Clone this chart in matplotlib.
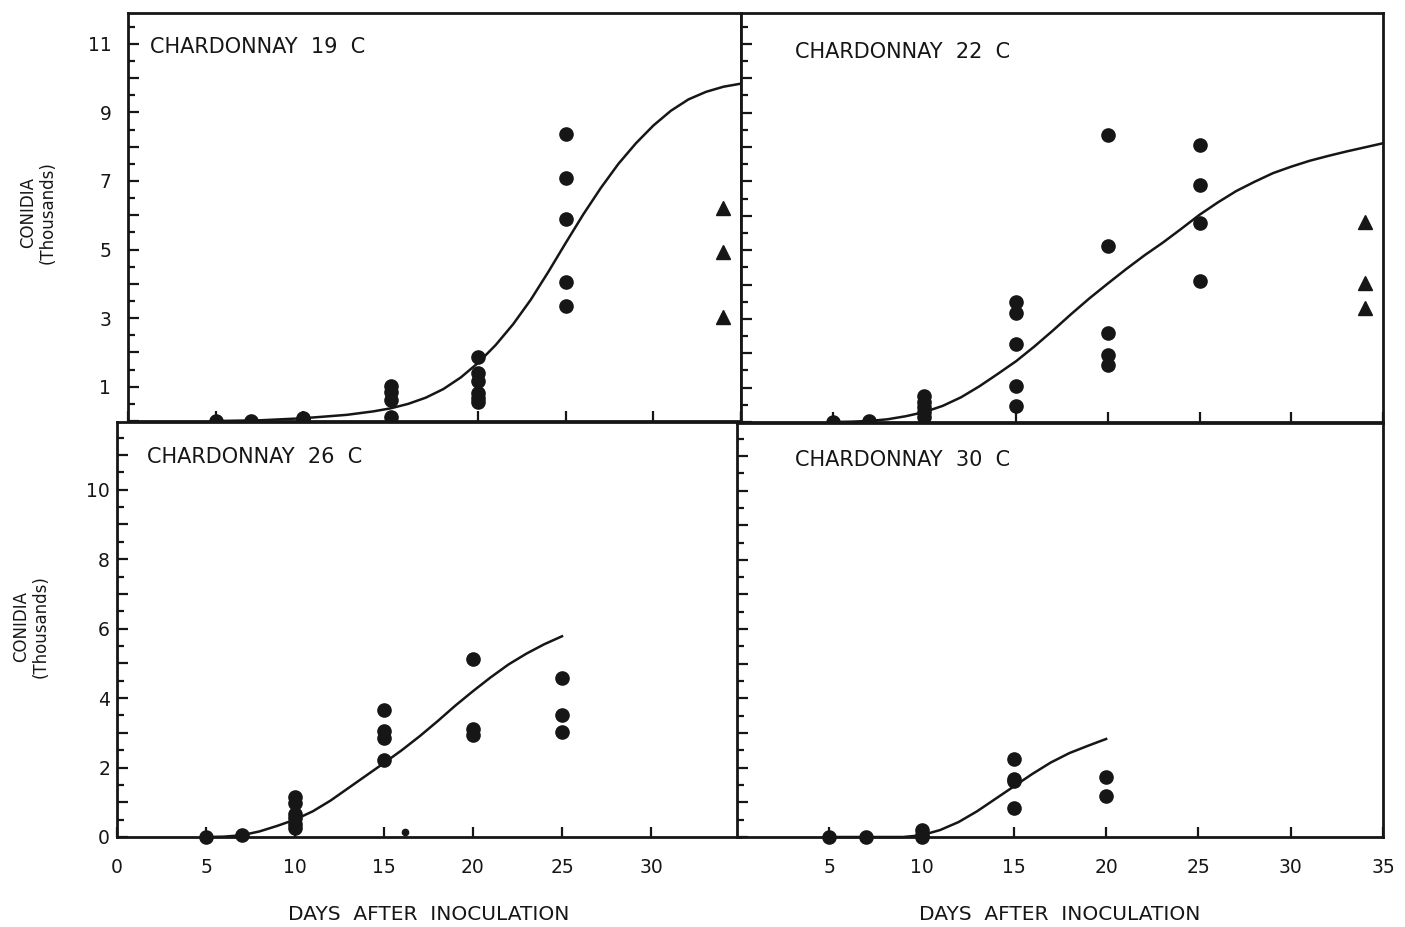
import matplotlib
matplotlib.use("Agg")
import matplotlib.pyplot as plt
from matplotlib.ticker import MultipleLocator, FuncFormatter

plt.rcParams['font.family'] = ['DejaVu Sans']
plt.rcParams['font.size'] = 13

# ---- data (days, conidia in thousands) ----
# 19 C
t19_days = [5, 7, 10, 10, 10, 15, 15, 15, 15, 20, 20, 20, 20, 20, 20, 25, 25, 25, 25, 25]
t19_vals = [0, 0, 0.03, 0.07, 0.1, 1.03, 0.85, 0.62, 0.12, 1.87, 1.41, 1.17, 0.83, 0.68, 0.56, 8.38, 7.1, 5.88, 4.05, 3.35]
t19_tri_days = [34, 34, 34]
t19_tri_vals = [6.22, 4.94, 3.04]
t19_fit_days = [5, 7.5, 10, 12.5, 14, 15, 16, 17, 18, 19, 20, 21, 22, 23, 24, 25, 26, 27, 28, 29, 30, 31, 32, 33, 34, 35]
t19_fit_vals = [0, 0.02, 0.08, 0.18, 0.28, 0.37, 0.5, 0.68, 0.93, 1.27, 1.7, 2.22, 2.83, 3.54, 4.35, 5.2,
                6.03, 6.8, 7.5, 8.1, 8.62, 9.05, 9.38, 9.6, 9.75, 9.84]

# 22 C
t22_days = [5, 7, 10, 10, 10, 10, 10, 15, 15, 15, 15, 15, 20, 20, 20, 20, 20, 25, 25, 25, 25]
t22_vals = [0, 0.03, 0.76, 0.58, 0.44, 0.29, 0.15, 3.5, 3.16, 2.28, 1.04, 0.46, 8.36, 5.12, 2.58, 1.94, 1.65, 8.07, 6.9, 5.8, 4.1]
t22_tri_days = [34, 34, 34]
t22_tri_vals = [5.83, 4.03, 3.32]
t22_fit_days = [5, 6, 7, 8, 9, 10, 11, 12, 13, 14, 15, 16, 17, 18, 19, 20, 21, 22, 23, 24, 25, 26, 27, 28, 29, 30,
                31, 32, 33, 34, 35]
t22_fit_vals = [0, 0.01, 0.03, 0.08, 0.17, 0.29, 0.47, 0.72, 1.04, 1.4, 1.77, 2.2, 2.66, 3.14, 3.6, 4.03, 4.45,
                4.85, 5.22, 5.62, 6.03, 6.39, 6.72, 6.99, 7.24, 7.43, 7.6, 7.74, 7.87, 7.99, 8.11]

# 26 C
t26_days = [5, 7, 10, 10, 10, 10, 10, 10, 15, 15, 15, 15, 20, 20, 20, 25, 25, 25]
t26_vals = [0, 0.07, 1.15, 0.98, 0.67, 0.55, 0.38, 0.26, 3.65, 3.05, 2.85, 2.21, 5.13, 3.12, 2.93, 4.58, 3.5, 3.02]
t26_small_days = [16.2]
t26_small_vals = [0.14]
t26_fit_days = [5, 6, 7, 8, 9, 10, 11, 12, 13, 14, 15, 16, 17, 18, 19, 20, 21, 22, 23, 24, 25]
t26_fit_vals = [0, 0.01, 0.05, 0.16, 0.32, 0.5, 0.74, 1.05, 1.41, 1.77, 2.13, 2.5, 2.9, 3.33, 3.78, 4.2, 4.6,
                4.97, 5.28, 5.55, 5.78]

# 30 C
t30_days = [5, 7, 10, 10, 10, 15, 15, 15, 15, 20, 20]
t30_vals = [0, 0, 0, 0.07, 0.19, 2.25, 1.68, 1.63, 0.83, 1.73, 1.17]
t30_fit_days = [5, 9, 10, 11, 12, 13, 14, 15, 16, 17, 18, 19, 20]
t30_fit_vals = [0, 0, 0.05, 0.2, 0.43, 0.74, 1.1, 1.46, 1.82, 2.15, 2.42, 2.63, 2.83]

W, H = 1405, 927
fig = plt.figure(figsize=(W / 100, H / 100), dpi=100)


def box(x0, y0, x1, y1):
    # pixel box (top-left origin) -> figure fraction
    return [x0 / W, 1 - y1 / H, (x1 - x0) / W, (y1 - y0) / H]


ax19 = fig.add_axes(box(128, 13, 741, 421))
ax22 = fig.add_axes(box(741, 13, 1383, 422))
ax26 = fig.add_axes(box(117, 422, 740, 837))
ax30 = fig.add_axes(box(737, 423, 1383, 837))

odd_only = FuncFormatter(lambda v, p: '%d' % v if int(round(v)) % 2 == 1 else '')
even_only = FuncFormatter(lambda v, p: '%d' % v if int(round(v)) % 2 == 0 and v < 11 else '')

ink = '#161616'
panels = [
    (ax19, 'CHARDONNAY  19  C', t19_days, t19_vals, t19_fit_days, t19_fit_vals, (0.036, 0.917), 11.9),
    (ax22, 'CHARDONNAY  22  C', t22_days, t22_vals, t22_fit_days, t22_fit_vals, (0.084, 0.905), 11.9),
    (ax26, 'CHARDONNAY  26  C', t26_days, t26_vals, t26_fit_days, t26_fit_vals, (0.048, 0.916), 11.95),
    (ax30, 'CHARDONNAY  30  C', t30_days, t30_vals, t30_fit_days, t30_fit_vals, (0.09, 0.911), 11.95),
]

for ax, title, dx, dy, fx, fy, tpos, ytop in panels:
    ax.plot(fx, fy, color=ink, lw=1.8, clip_on=False, zorder=3)
    ax.plot(dx, dy, 'o', color=ink, ms=9.5, clip_on=False, zorder=4)
    ax.set_xlim(0, 35)
    ax.set_ylim(0, ytop)
    ax.text(tpos[0], tpos[1], title, transform=ax.transAxes, fontsize=15,
            ha='left', va='center', color=ink)
    for s in ax.spines.values():
        s.set_linewidth(2)
        s.set_color(ink)
    ax.xaxis.set_major_locator(MultipleLocator(5))
    ax.yaxis.set_major_locator(MultipleLocator(1))
    ax.yaxis.set_minor_locator(MultipleLocator(0.5))
    ax.tick_params(axis='both', which='both', direction='in', top=False, right=False, width=1.6,
                   color=ink, labelcolor=ink)
    ax.tick_params(axis='y', which='major', length=8)
    ax.tick_params(axis='y', which='minor', length=5)
    ax.tick_params(axis='x', which='major', length=7)

ax19.plot(t19_tri_days, t19_tri_vals, '^', color=ink, ms=9.5, clip_on=False, zorder=4)
ax22.plot(t22_tri_days, t22_tri_vals, '^', color=ink, ms=9.5, clip_on=False, zorder=4)
ax26.plot(t26_small_days, t26_small_vals, 'o', color=ink, ms=4.5, clip_on=False, zorder=4)

# tick labels
ax19.yaxis.set_major_formatter(odd_only)
ax19.tick_params(axis='y', which='major', pad=12, labelsize=13.5)
ax19.tick_params(axis='x', labelbottom=False)
ax22.tick_params(axis='both', labelleft=False, labelbottom=False)
ax26.yaxis.set_major_formatter(even_only)
ax26.tick_params(axis='y', which='major', pad=5, labelsize=13.5)
ax26.set_xticks([0, 5, 10, 15, 20, 25, 30])
ax26.tick_params(axis='x', pad=15, labelsize=13.5)
ax30.set_xticks([5, 10, 15, 20, 25, 30, 35])
ax30.tick_params(axis='x', pad=15, labelsize=13.5)
ax30.tick_params(axis='y', labelleft=False)

for ax in (ax26, ax30):
    ax.set_xlabel('DAYS  AFTER  INOCULATION', fontsize=14.5, labelpad=20, color=ink)

fig.text(38 / W, 1 - 213 / H, 'CONIDIA\n(Thousands)', rotation=90, ha='center', va='center',
         multialignment='center', fontsize=12, linespacing=1.1, color=ink)
fig.text(31 / W, 1 - 627 / H, 'CONIDIA\n(Thousands)', rotation=90, ha='center', va='center',
         multialignment='center', fontsize=12, linespacing=1.1, color=ink)

fig.savefig('out.png', dpi=100)
